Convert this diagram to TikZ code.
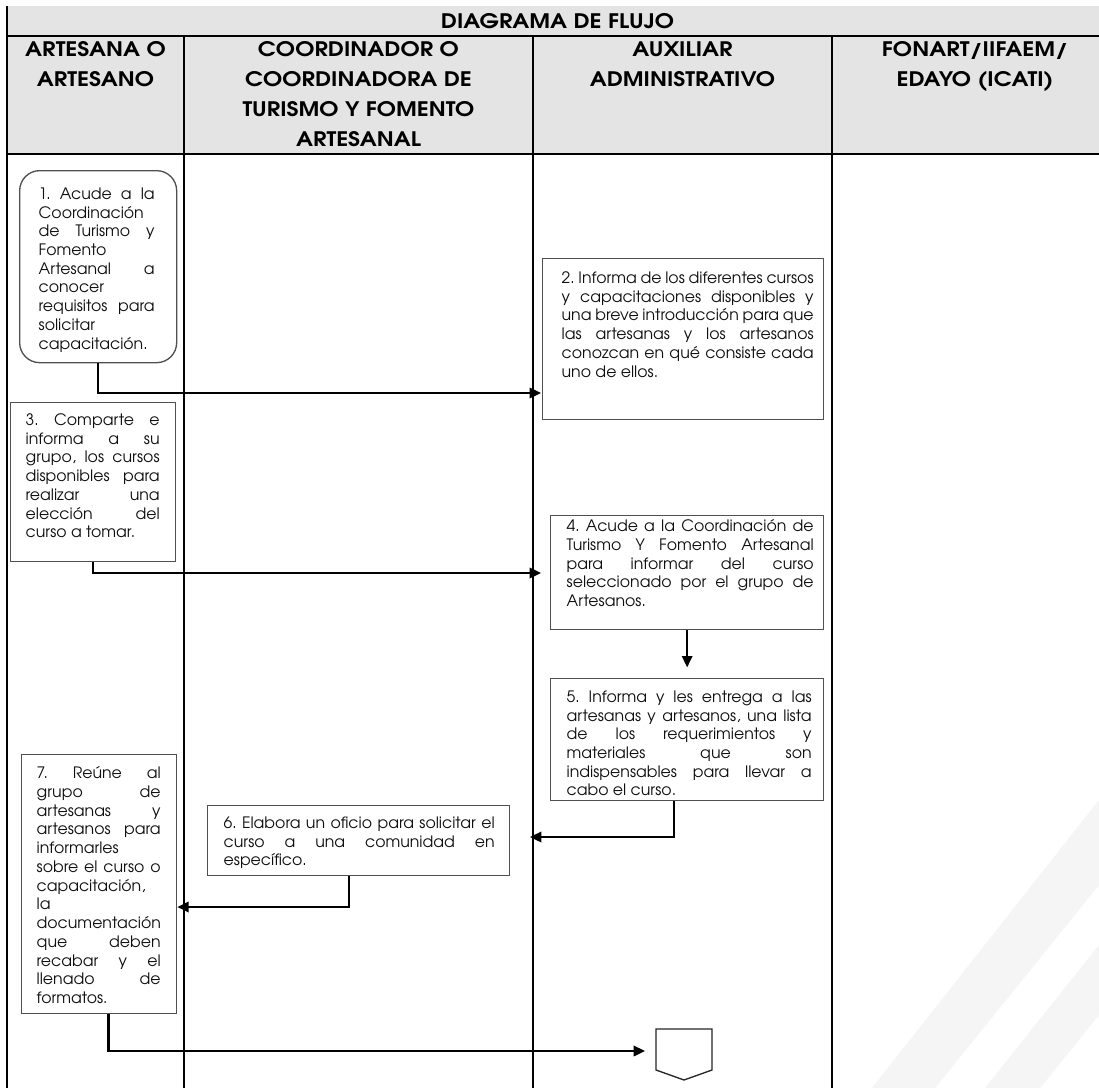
\documentclass[tikz,border=0pt]{standalone}
\usepackage{fontspec}
\setmainfont{texgyreadventor}[Extension=.otf,UprightFont=*-regular,BoldFont=*-bold]
\newfontfamily\hdrfam{texgyreadventor}[Extension=.otf,UprightFont=*-bold,FakeStretch=1.15]
\usetikzlibrary{arrows.meta}
\newlength\px \setlength\px{0.75pt}
\definecolor{hdr}{RGB}{228,228,228}
\definecolor{bord}{RGB}{80,80,80}
\definecolor{txt}{RGB}{15,15,15}
\definecolor{wm}{RGB}{245,245,245}
\newcommand\bodyfont{\fontsize{11.8pt}{14.05pt}\selectfont}
\newcommand\hdrfont{\hdrfam\fontsize{15pt}{22.5pt}\selectfont}
\newcommand\J[1]{\noindent\makebox[\linewidth][s]{#1}\par}
\newcommand\Lft[1]{\noindent\makebox[\linewidth][l]{#1}\par}
% width, height, top pad, left pad, right pad, text
\newcommand\btext[6]{\parbox[c][#2\px][t]{#1\px}{\vspace*{#3\px}\hspace*{#4\px}\parbox[t]{\dimexpr #1\px-#4\px-#5\px\relax}{\bodyfont\frenchspacing\color{txt}#6}}}
\begin{document}
\begin{tikzpicture}[x=0.75pt,y=-0.75pt,
  box/.style={draw=bord,line width=1pt,inner sep=0pt,anchor=north west},
  hdrtext/.style={inner sep=0pt,anchor=base,font=\hdrfont},
  lane/.style={line width=0.9pt,black},
  conn/.style={line width=1.6pt,black,-{Triangle[length=8.5pt,width=7.8pt]}}]
\useasboundingbox (0,0) rectangle (1099,1088);
\fill[white] (0,0) rectangle (1099,1088);
% faint watermark bands
\fill[wm] (872,1088) -- (935,1088) -- (1099,885) -- (1099,800) -- cycle;
\fill[wm] (985,1088) -- (1040,1088) -- (1099,1015) -- (1099,945) -- cycle;
% header band
\fill[hdr] (7,6) rectangle (1099,154);
\draw[lane] (7,36) -- (1099,36);
\draw[lane] (7,154) -- (1099,154);
\draw[lane] (7,6) -- (7,1088);
\draw[lane] (184,36) -- (184,1088);
\draw[lane] (533,36) -- (533,1088);
\draw[lane] (832,36) -- (832,1088);
% titles
\node[hdrtext] (title) at (557.5,28.5) {DIAGRAMA DE FLUJO};
\node[hdrtext] (h1) at (95.5,57) {\parbox[t]{175\px}{\centering ARTESANA O\\ARTESANO}};
\node[hdrtext] (h2) at (358.5,57) {\parbox[t]{345\px}{\centering COORDINADOR O\\COORDINADORA DE\\TURISMO Y FOMENTO\\ARTESANAL}};
\node[hdrtext] (h3) at (682.5,57) {\parbox[t]{295\px}{\centering AUXILIAR\\ADMINISTRATIVO}};
\node[hdrtext] (h4) at (975,57) {\parbox[t]{260\px}{\centering FONART/IIFAEM/\\EDAYO (ICATI)}};
% boxes
\node[box,rounded corners=15pt] (b1) at (19,170) {\btext{157}{192}{17}{19}{22}{%
\J{1. Acude a la}
\Lft{Coordinación}
\J{de Turismo y}
\Lft{Fomento}
\J{Artesanal a}
\Lft{conocer}
\J{requisitos para}
\Lft{solicitar}
\Lft{capacitación.}}};
\node[box] (b2) at (542,258) {\btext{281}{161}{13}{19}{10}{%
\J{2. Informa de los diferentes cursos}
\J{y capacitaciones disponibles y}
\J{una breve introducción para que}
\J{las artesanas y los artesanos}
\J{conozcan en qué consiste cada}
\Lft{uno de ellos.}}};
\node[box] (b3) at (10,402) {\btext{165}{159}{11}{15}{16}{%
\J{3. Comparte e}
\J{informa a su}
\J{grupo, los cursos}
\J{disponibles para}
\J{realizar una}
\J{elección del}
\Lft{curso a tomar.}}};
\node[box] (b4) at (550,515) {\btext{273}{114}{4}{16}{10}{%
\J{4. Acude a la Coordinación de}
\J{Turismo Y Fomento Artesanal}
\J{para informar del curso}
\J{seleccionado por el grupo de}
\Lft{Artesanos.}}};
\node[box] (b5) at (550,678) {\btext{273}{122}{12}{16}{12}{%
\J{5. Informa y les entrega a las}
\J{artesanas y artesanos, una lista}
\J{de los requerimientos y}
\J{materiales que son}
\J{indispensables para llevar a}
\Lft{cabo el curso.}}};
\node[box] (b6) at (207,805) {\btext{302}{70}{11}{16}{15}{%
\J{6. Elabora un oficio para solicitar el}
\J{curso a una comunidad en}
\Lft{específico.}}};
\node[box] (b7) at (21,754) {\btext{155}{259}{12}{15}{16}{%
\J{7. Reúne al}
\J{grupo de}
\J{artesanas y}
\J{artesanos para}
\Lft{informarles}
\J{sobre el curso o}
\Lft{capacitación,}
\Lft{la}
\Lft{documentación}
\J{que deben}
\J{recabar y el}
\J{llenado de}
\Lft{formatos.}}};
% off-page connector
\draw[draw=black!85,line width=1pt] (656,1029) -- (712,1029) -- (712,1070) -- (684,1080) -- (656,1070) -- cycle;
% connector end points
\coordinate (a2) at (541,393);
\coordinate (a4) at (541,573);
\coordinate (a6) at (530,837);
\coordinate (y7) at (0,907);
\coordinate (aend) at (645,1051);
% connectors
\draw[conn] (b1.south) |- (a2);
\draw[conn] (b3.south) |- (a4);
\draw[conn] (b4.south) -- ([yshift=8pt]b5.north);
\draw[conn] ([xshift=-10pt]b5.south) |- (a6);
\draw[conn] ([xshift=-7pt]b6.south) |- (b7.east |- y7);
\draw[conn] ([xshift=7pt]b7.south) |- (aend);
\end{tikzpicture}
\end{document}
